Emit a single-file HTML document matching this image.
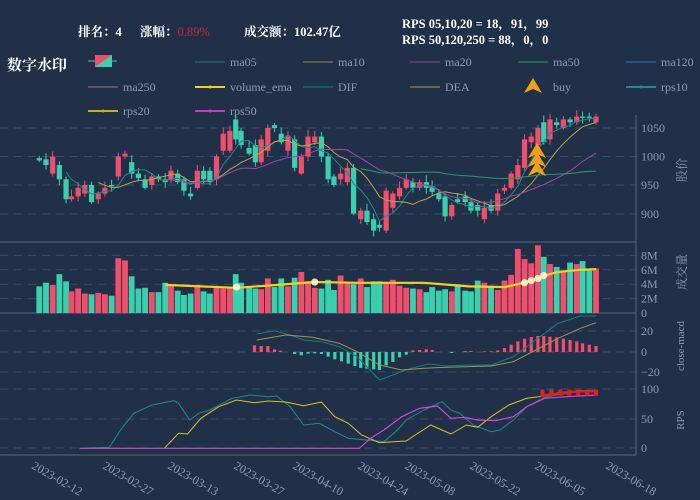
<!DOCTYPE html>
<html><head><meta charset="utf-8"><style>
html,body{margin:0;padding:0;background:#213049;}
svg{display:block}
text{font-family:"Liberation Serif","Noto Serif CJK SC",serif;}
</style></head><body>
<svg id="s" width="700" height="500" xmlns="http://www.w3.org/2000/svg">
<rect width="700" height="500" fill="#213049"/>
<g font-weight="bold" fill="#fff" font-size="12.5">
<text x="78" y="36" font-family="Liberation Sans,'Noto Sans CJK SC',sans-serif">排名：4</text>
<text x="140" y="36" font-family="Liberation Sans,'Noto Sans CJK SC',sans-serif">涨幅：<tspan fill="#c8242c" font-weight="normal">0.89%</tspan></text>
<text x="244" y="36" font-family="Liberation Sans,'Noto Sans CJK SC',sans-serif">成交额：102.47亿</text>
<text x="402" y="28">RPS 05,10,20 = 18，91，99</text>
<text x="402" y="44">RPS 50,120,250 = 88，0，0</text>
<text x="7" y="70" font-size="15" font-family="Liberation Sans,'Noto Sans CJK SC',sans-serif">数字水印</text>
</g>
<g id="legend" font-size="12" fill="#8e9ab0"></g>
<g id="grid"></g>
<g id="plot"></g>
</svg>
<script>
const S=document.getElementById('s');
function el(t,a,p){const e=document.createElementNS('http://www.w3.org/2000/svg',t);for(const k in a)e.setAttribute(k,a[k]);(p||S).appendChild(e);return e;}
const RED='#ef4f6a',TEAL='#3ad0ae',GRID='#3b4b66',AX='#56657f',LBL='#8e9ab0';
// legend
const L=document.getElementById('legend');
function lg(x,y,c,t,dot){el('line',{x1:x,y1:y,x2:x+30,y2:y,stroke:c,'stroke-width':dot?2:1.2},L);if(dot)el('circle',{cx:x+15,cy:y,r:1.5,fill:c},L);const tx=el('text',{x:x+35,y:y+4},L);tx.textContent=t;}
el('line',{x1:88,y1:61,x2:117,y2:61,stroke:TEAL},L);
el('rect',{x:95,y:55,width:17,height:12,fill:TEAL},L);
el('polygon',{points:'95,55 112,55 95,67',fill:RED},L);
lg(195,62,'#1e6b73','ma05');lg(303,62,'#7a7a3a','ma10');lg(410,62,'#7a3f8a','ma20');lg(518,62,'#1f8a5a','ma50');lg(626,62,'#2a6ab0','ma120');
lg(88,87,'#7a6d80','ma250');lg(195,87,'#f5d020','volume_ema',1);lg(303,87,'#1e6b73','DIF');lg(410,87,'#8a8a40','DEA');
el('polygon',{points:'533,78 524,93 533,89 542,93',fill:'#f5a012'},L);let bt=el('text',{x:553,y:91},L);bt.textContent='buy';
lg(626,87,'#1f8a8a','rps10',1);lg(88,111,'#c8b020','rps20',1);lg(195,111,'#c040c0','rps50',1);
// grid & axes
const G=document.getElementById('grid');
function hl(y,dash){el('line',{x1:0,y1:y,x2:636,y2:y,stroke:dash?GRID:AX,'stroke-width':1,'stroke-dasharray':dash?'8,6':''},G);}
function tl(y,t){const tx=el('text',{x:641,y:y+4,'font-size':12,fill:LBL},G);tx.textContent=t;}
[[128,'1050'],[156.5,'1000'],[185,'950'],[214,'900']].forEach(a=>{hl(a[0],1);tl(a[0],a[1]);});
[[255.4,'8M'],[269.8,'6M'],[284.2,'4M'],[298.6,'2M']].forEach(a=>{hl(a[0],1);tl(a[0],a[1]);});tl(313,'0');
[[331,'20'],[352,'0'],[372,'−20']].forEach(a=>{hl(a[0],1);tl(a[0],a[1]);});
[[389,'100'],[419,'50'],[448,'0']].forEach(a=>{hl(a[0],1);tl(a[0],a[1]);});
hl(242,0);hl(313,0);hl(455,0);
el('line',{x1:636,y1:115,x2:636,y2:455,stroke:AX},G);
function vl(x,y,t,fs){const tx=el('text',{x:x,y:y,'font-size':fs||11,fill:LBL,transform:`rotate(-90 ${x} ${y})`,'text-anchor':'middle'},G);tx.textContent=t;}
vl(686,170,'股价',12);vl(686,272,'成交量',12);vl(684,346,'close-macd',11);vl(684,420,'RPS',11);
const dx=[31,102,167,233,292,357,404,469,534,605],dl=['2023-02-12','2023-02-27','2023-03-13','2023-03-27','2023-04-10','2023-04-24','2023-05-08','2023-05-22','2023-06-05','2023-06-18'];
dx.forEach((x,i)=>{const tx=el('text',{x:x,y:468,'font-size':12,fill:LBL,transform:`rotate(30 ${x} ${468})`},G);tx.textContent=dl[i];});
// candles [zx,open,close]
const C=[[88,997,993],[103,995,985],[118,970,1000],[133,985,960],[148,960,925],[160,925,930],[175,930,945],[190,935,950],[205,950,920],[220,925,935],[235,935,945],[250,950,948],[265,965,1000],[280,1000,1005],[295,990,970],[310,970,962],[325,960,945],[340,950,965],[355,965,960],[370,960,955],[383,960,975],[398,970,955],[412,960,940],[427,935,930],[442,945,975],[456,975,960],[470,975,955],[485,960,1000],[500,1010,1040],[515,1010,1045],[528,1065,1030],[540,1045,1020],[558,1015,1005],[572,1020,990],[585,990,1030],[600,1010,1050],[615,1055,1050],[630,1040,1025],[645,1010,1035],[660,1030,980],[675,970,1000],[690,1000,1035],[705,1025,1035],[720,1035,1000],[735,1000,960],[748,965,950],[763,960,970],[778,955,980],[792,980,900],[808,890,905],[822,905,885],[837,890,870],[850,880,875],[865,870,940],[880,910,935],[895,930,945],[910,945,960],[925,955,945],[940,945,955],[955,955,945],[968,948,938],[983,935,925],[997,930,895],[1012,895,915],[1025,925,920],[1042,930,920],[1055,920,905],[1070,915,905],[1085,890,910],[1100,915,905],[1115,905,935],[1130,940,945],[1145,945,970],[1160,960,985],[1175,980,1030],[1190,1025,1035],[1205,1020,1050],[1218,1060,1025],[1232,1030,1065],[1247,1060,1055],[1262,1050,1065],[1277,1065,1060],[1292,1060,1070],[1305,1070,1068],[1320,1070,1068],[1335,1060,1070]];
const P=document.getElementById('plot');
const py=p=>156.5-(p-1000)*0.57;
const X=C.map(c=>c[0]/2.24);
C.forEach((c,i)=>{const x=X[i],up=c[2]>=c[1],col=up?RED:TEAL,hi=Math.max(c[1],c[2])+4+(i*7%9),lo=Math.min(c[1],c[2])-3-(i*5%8);
el('line',{x1:x,y1:py(hi),x2:x,y2:py(lo),stroke:col,'stroke-width':1},P);
const t=py(Math.max(c[1],c[2])),b=py(Math.min(c[1],c[2]));el('rect',{x:x-2.6,y:t,width:5.2,height:Math.max(1.2,b-t),fill:col},P);});
const cl=C.map(c=>c[2]);
function ma(n,col){let pts=[];for(let i=n-1;i<cl.length;i++){let s=0;for(let j=i-n+1;j<=i;j++)s+=cl[j];pts.push(X[i].toFixed(1)+','+py(s/n).toFixed(1));}el('polyline',{points:pts.join(' '),fill:'none',stroke:col,'stroke-width':1},P);}
ma(5,'#1f8a90');ma(10,'#b0a84a');ma(20,'#9a4aa8');ma(50,'#2a9a6a');
// buy arrows
[143,152,161].forEach(t=>el('polygon',{points:`537,${t} 528,${t+15} 537,${t+11} 546,${t+15}`,fill:'#f5a012'},P));
// volume
const V=[3.7,4.2,3.9,5.4,4.4,3,3.4,2.7,2.6,2.8,2.6,2.4,7.6,7.3,5.1,3.4,3.5,2.9,2.9,4.2,4,3.1,2.5,2.7,3.9,3,2.7,3.6,3.4,3.6,5.4,4.2,3.5,3.4,3.3,4.8,3.6,4.8,3.7,4.9,5.7,4.4,3.5,3.4,4.6,3.2,5.2,4.2,4,4.8,3.6,4.4,4.4,4.1,4.6,3.8,3.5,3.4,3.3,2.9,3.6,3.1,3.3,3,4,3.1,3,4.5,4.2,3.8,3.2,4.5,5.3,8.9,7.5,6.9,9.4,7.8,6.8,6.4,5.9,7.0,6.8,7.2,5.9,6.2,5.9];
C.forEach((c,i)=>{const v=V[i]||4,up=c[2]>=c[1];el('rect',{x:X[i]-2.9,y:313-v*7.2,width:5.8,height:v*7.2,fill:up?RED:TEAL},P);});
// volume ema
const E=[[370,3.9],[450,3.7],[530,3.5],[600,3.8],[705,4.3],[800,4.2],[950,4.2],[1050,3.7],[1130,3.6],[1160,4.0],[1190,4.5],[1220,5.2],[1250,5.7],[1300,6.0],[1335,6.1]];
el('polyline',{points:E.map(p=>(p[0]/2.24).toFixed(1)+','+(313-p[1]*7.2).toFixed(1)).join(' '),fill:'none',stroke:'#f5d020','stroke-width':2.2},P);
[[530,3.6],[705,4.3],[1175,4.2],[1190,4.5],[1205,4.8],[1218,5.2]].forEach(p=>{el('circle',{cx:p[0]/2.24,cy:313-p[1]*7.2,r:3.6,fill:'#fff7d0',opacity:0.9},P);});
// macd
function pl(pts,col,w){el('polyline',{points:pts.map(p=>(p[0]/2.24).toFixed(1)+','+(310+p[1]/3).toFixed(1)).join(' '),fill:'none',stroke:col,'stroke-width':w||1},P);}
const H=[[570,20],[585,18],[600,18],[615,8],[628,4],[660,-6],[675,-10],[690,-5],[705,-4],[720,-6],[735,-14],[750,-22],[765,-28],[780,-35],[795,-42],[808,-48],[822,-50],[837,-52],[850,-54],[865,-40],[880,-30],[895,-16],[910,-8],[925,5],[940,6],[955,8],[968,6],[1012,-3],[1042,3],[1055,3],[1085,2],[1100,2],[1115,5],[1130,12],[1145,22],[1160,32],[1175,40],[1190,45],[1205,48],[1218,48],[1232,46],[1247,44],[1262,40],[1277,36],[1292,32],[1305,26],[1320,22],[1335,18]];
H.forEach(h=>{const x=h[0]/2.24,y0=352,yy=352-h[1]/3;el('rect',{x:x-1.6,y:Math.min(y0,yy),width:3.2,height:Math.abs(yy-y0),fill:h[1]>0?RED:TEAL},P);});
pl([[575,72],[615,62],[650,75],[680,90],[720,95],[760,110],[800,140],[850,210],[880,195],[920,175],[960,162],[1000,168],[1050,165],[1100,165],[1150,140],[1200,90],[1250,40],[1300,18],[1335,18]],'#1e7a80');
pl([[575,90],[640,75],[700,82],[760,100],[800,125],[850,165],[900,180],[950,175],[1000,172],[1100,168],[1150,155],[1200,120],[1250,85],[1300,55],[1335,38]],'#9a9a48');
// rps
pl([[178,415],[245,412],[270,360],[300,310],[340,285],[390,272],[400,280],[425,330],[445,310],[470,300],[520,265],[560,255],[600,260],[620,258],[650,290],[680,345],[715,340],[750,365],[780,385],[820,390],[860,395],[890,360],[910,330],[950,300],[990,275],[1010,300],[1030,310],[1060,345],[1100,365],[1120,360],[1150,330],[1180,290],[1220,262],[1260,252],[1300,245],[1335,245]],'#1f8a8a');
pl([[368,415],[400,370],[420,372],[450,325],[490,290],[530,270],[570,278],[600,273],[640,276],[680,287],[720,276],[750,320],[780,340],[810,375],[850,398],[880,395],[910,393],[930,375],[965,345],[990,360],[1010,372],[1045,345],[1070,352],[1100,320],[1140,285],[1180,265],[1220,258],[1260,250],[1300,245],[1335,245]],'#e0c020');
pl([[178,415],[805,415],[830,385],[860,360],[900,320],[940,295],[980,288],[1010,325],[1040,322],[1070,330],[1110,332],[1150,320],[1180,290],[1220,265],[1270,260],[1335,255]],'#d048d0',1.2);
pl([[1210,258],[1260,248],[1300,244],[1335,244]],'#e02020',2.5);
[1215,1235,1255,1275,1295,1315,1335].forEach(z=>el('rect',{x:z/2.24-2,y:310+248/3-3,width:4,height:6,fill:'#e02020'},P));
</script>
</body></html>
